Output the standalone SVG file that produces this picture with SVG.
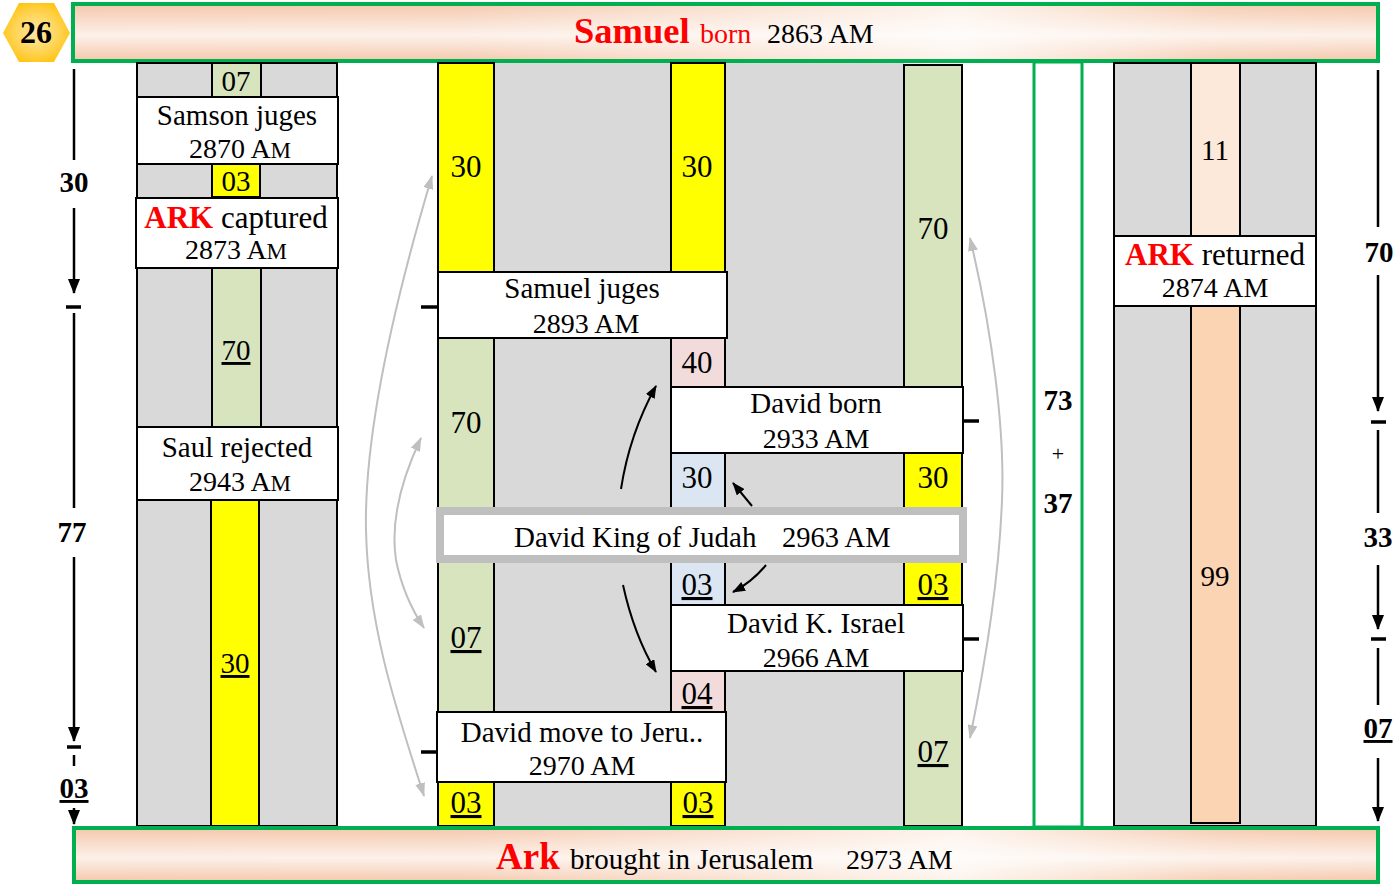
<svg xmlns="http://www.w3.org/2000/svg" width="1395" height="886" viewBox="0 0 1395 886">
<defs>
<linearGradient id="barH" x1="0" y1="0" x2="1" y2="0">
<stop offset="0" stop-color="#F5C7AB"/>
<stop offset="0.3" stop-color="#F5C9AE"/>
<stop offset="0.68" stop-color="#FDF3EC"/>
<stop offset="0.88" stop-color="#F6CDB3"/>
<stop offset="1" stop-color="#F5C7AB"/>
</linearGradient>
<linearGradient id="barV" x1="0" y1="0" x2="0" y2="1">
<stop offset="0" stop-color="#FFFFFF" stop-opacity="0"/>
<stop offset="0.55" stop-color="#FFFFFF" stop-opacity="0.75"/>
<stop offset="1" stop-color="#FFFFFF" stop-opacity="0"/>
</linearGradient>
<radialGradient id="hexG" cx="0.5" cy="0.5" r="0.6">
<stop offset="0" stop-color="#FFE9A8"/>
<stop offset="0.6" stop-color="#FFD24D"/>
<stop offset="1" stop-color="#FFC000"/>
</radialGradient>
<marker id="ah" markerUnits="userSpaceOnUse" markerWidth="15" markerHeight="12" viewBox="0 0 15 12" refX="14" refY="6" orient="auto">
<path d="M0,0 L15,6 L0,12 z" fill="#000"/>
</marker>
<marker id="ahs" markerUnits="userSpaceOnUse" markerWidth="13" markerHeight="10" viewBox="0 0 13 10" refX="12" refY="5" orient="auto">
<path d="M0,0 L13,5 L0,10 z" fill="#000"/>
</marker>
<marker id="ahg" markerUnits="userSpaceOnUse" markerWidth="14" markerHeight="10" viewBox="0 0 14 10" refX="13" refY="5" orient="auto-start-reverse">
<path d="M0,0 L14,5 L0,10 z" fill="#BFBFBF"/>
</marker>
</defs>
<style>
text{font-family:"Liberation Serif","Times New Roman",serif;fill:#000;}
.col{fill:#D9D9D9;stroke:#000;stroke-width:2;}
.gry{fill:#D9D9D9;}
.cell{stroke:#000;stroke-width:2;}
.g{fill:#D7E4BD;}
.y{fill:#FFFF00;}
.p{fill:#F2DCDB;}
.b{fill:#DCE6F2;}
.lp{fill:#FDE9D9;}
.pc{fill:#FBD4B4;}
.box{fill:#FFFFFF;stroke:#000;stroke-width:2;}
.t{font-size:29px;text-anchor:middle;}
.yr{font-size:28px;text-anchor:middle;}
.n{font-size:29px;text-anchor:middle;}
.n30{font-size:31px;text-anchor:middle;}
.u{text-decoration:underline;}
.sc{font-size:29px;font-weight:bold;text-anchor:middle;}
.red{fill:#FF0000;}
.bar{stroke:#00B050;stroke-width:4;}
.ln{stroke:#000;stroke-width:2.5;fill:none;}
.tk{stroke:#000;stroke-width:3.5;}
.ga{stroke:#BFBFBF;stroke-width:2;fill:none;marker-start:url(#ahg);marker-end:url(#ahg);}
.ba{stroke:#000;stroke-width:2;fill:none;marker-end:url(#ahs);}
</style>

<!-- header -->
<g id="header">
<rect x="73" y="4" width="1305" height="57" fill="url(#barH)"/>
<rect x="73" y="4" width="1305" height="57" fill="url(#barV)" class="bar"/>
<text x="574" y="43" font-size="36.5" font-weight="bold" class="red">Samuel</text>
<text x="700" y="43" font-size="28" class="red">born</text>
<text x="767" y="43" font-size="28">2863 AM</text>
</g>
<g id="badge">
<polygon points="3,33 19,3 54,3 70,33 54,62 19,62" fill="url(#hexG)"/>
<text x="36" y="43" font-size="32" font-weight="bold" text-anchor="middle">26</text>
</g>

<!-- left column -->
<g id="left-column">
<rect x="137" y="63" width="200" height="763" class="col"/>
<rect x="212" y="63" width="49" height="34" class="cell g"/>
<text x="236" y="91" class="n">07</text>
<rect x="212" y="164" width="48" height="33" class="cell y"/>
<text x="236" y="191" class="n">03</text>
<rect x="212" y="268" width="49" height="159" class="cell g"/>
<text x="236" y="360" class="n u">70</text>
<rect x="211" y="500" width="48" height="326" class="cell y"/>
<text x="235" y="673" class="n u">30</text>
</g>
<g id="samson">
<rect x="137" y="97" width="201" height="67" class="box"/>
<text x="237" y="125" class="t">Samson juges</text>
<text x="240" y="158" class="yr">2870 A<tspan font-size="23">M</tspan></text>
</g>
<g id="ark-captured">
<rect x="136" y="198" width="202" height="70" class="box"/>
<text x="236" y="228" font-size="31" text-anchor="middle"><tspan font-weight="bold" class="red">ARK</tspan> captured</text>
<text x="236" y="259" class="yr">2873 A<tspan font-size="23">M</tspan></text>
</g>
<g id="saul">
<rect x="137" y="427" width="201" height="73" class="box"/>
<text x="237" y="457" class="t">Saul rejected</text>
<text x="240" y="491" class="yr">2943 A<tspan font-size="23">M</tspan></text>
</g>

<!-- middle block -->
<g id="middle-block">
<rect x="438" y="63" width="466" height="763" class="gry"/>
<rect x="438" y="63" width="56" height="209" class="cell y"/>
<text x="466" y="177" class="n30">30</text>
<rect x="671" y="63" width="54" height="209" class="cell y"/>
<text x="697" y="177" class="n30">30</text>
<rect x="904" y="65" width="58" height="322" class="cell g"/>
<text x="933" y="239" class="n30">70</text>
<rect x="438" y="338" width="56" height="374" class="cell g"/>
<text x="466" y="433" class="n30">70</text>
<text x="466" y="648" class="n30 u">07</text>
<rect x="671" y="338" width="54" height="49" class="cell p"/>
<text x="697" y="373" class="n30">40</text>
<rect x="671" y="453" width="54" height="57" class="cell b"/>
<text x="697" y="488" class="n30">30</text>
<rect x="904" y="453" width="58" height="57" class="cell y"/>
<text x="933" y="488" class="n30">30</text>
<rect x="671" y="560" width="54" height="45" class="cell b"/>
<text x="697" y="595" class="n30 u">03</text>
<rect x="904" y="560" width="58" height="45" class="cell y"/>
<text x="933" y="595" class="n30 u">03</text>
<rect x="671" y="671" width="54" height="41" class="cell p"/>
<text x="697" y="704" class="n30 u">04</text>
<rect x="904" y="671" width="58" height="155" class="cell g"/>
<text x="933" y="762" class="n30 u">07</text>
<rect x="438" y="782" width="56" height="44" class="cell y"/>
<text x="466" y="813" class="n30 u">03</text>
<rect x="671" y="782" width="54" height="44" class="cell y"/>
<text x="698" y="813" class="n30 u">03</text>
</g>
<g id="samuel-juges">
<rect x="438" y="272" width="289" height="66" class="box"/>
<text x="582" y="298" class="t">Samuel juges</text>
<text x="586" y="333" class="yr">2893 AM</text>
<line x1="421" y1="307" x2="438" y2="307" class="tk"/>
</g>
<g id="david-born">
<rect x="671" y="387" width="292" height="66" class="box"/>
<text x="816" y="413" class="t">David born</text>
<text x="816" y="448" class="yr">2933 AM</text>
<line x1="963" y1="421" x2="979" y2="421" class="tk"/>
</g>
<g id="david-king-judah">
<rect x="440" y="511" width="523" height="48" fill="#FFFFFF" stroke="#BFBFBF" stroke-width="8"/>
<text x="514" y="547" font-size="29">David King of Judah</text>
<text x="782" y="547" font-size="28.5">2963 AM</text>
</g>
<g id="david-israel">
<rect x="671" y="605" width="292" height="66" class="box"/>
<text x="816" y="633" class="t">David K. Israel</text>
<text x="816" y="667" class="yr">2966 AM</text>
<line x1="963" y1="639" x2="979" y2="639" class="tk"/>
</g>
<g id="david-jerusalem">
<rect x="437" y="712" width="289" height="70" class="box"/>
<text x="582" y="742" class="t">David move to Jeru..</text>
<text x="582" y="775" class="yr">2970 AM</text>
<line x1="421" y1="752" x2="437" y2="752" class="tk"/>
</g>

<!-- green total box -->
<g id="total">
<rect x="1034" y="62" width="48" height="765" fill="#FFFFFF" stroke="#00B050" stroke-width="3"/>
<text x="1058" y="410" class="sc">73</text>
<text x="1058" y="461" font-size="22" text-anchor="middle">+</text>
<text x="1058" y="513" class="sc">37</text>
</g>

<!-- right column -->
<g id="right-column">
<rect x="1114" y="63" width="202" height="763" class="col"/>
<rect x="1191" y="63" width="49" height="173" class="cell lp"/>
<text x="1215" y="160" class="n">11</text>
<rect x="1191" y="306" width="49" height="517" class="cell pc"/>
<text x="1215" y="586" class="n">99</text>
</g>
<g id="ark-returned">
<rect x="1114" y="236" width="202" height="70" class="box"/>
<text x="1215" y="265" font-size="31" text-anchor="middle"><tspan font-weight="bold" class="red">ARK</tspan> returned</text>
<text x="1215" y="297" class="yr">2874 AM</text>
</g>

<!-- footer -->
<g id="footer">
<rect x="74" y="828" width="1304" height="54" fill="url(#barH)"/>
<rect x="74" y="828" width="1304" height="54" fill="url(#barV)" class="bar"/>
<text x="496" y="869" font-size="37" font-weight="bold" class="red">Ark</text>
<text x="570" y="869" font-size="29">brought in Jerusalem</text>
<text x="846" y="869" font-size="28">2973 AM</text>
</g>

<!-- connectors -->
<g id="connectors">
<path d="M432,176 C398,290 364,430 366,530 C368,630 400,720 424,796" class="ga"/>
<path d="M421,438 C402,478 390,520 396,560 C402,590 412,610 424,628" class="ga"/>
<path d="M970,238 C992,330 1005,430 1002,500 C999,580 986,660 970,738" class="ga"/>
<path d="M621,489 C627,450 640,415 656,386" class="ba"/>
<path d="M752,506 L733,483" class="ba"/>
<path d="M766,565 Q752,582 733,592" class="ba"/>
<path d="M623,585 Q634,635 656,672" class="ba"/>
</g>

<!-- scales -->
<g id="scale-left">
<line x1="74" y1="69" x2="74" y2="160" class="ln"/>
<text x="74" y="192" class="sc">30</text>
<line x1="74" y1="208" x2="74" y2="293" class="ln" marker-end="url(#ah)"/>
<line x1="66" y1="307" x2="81" y2="307" class="tk"/>
<line x1="74" y1="313" x2="74" y2="508" class="ln"/>
<text x="72" y="542" class="sc">77</text>
<line x1="74" y1="557" x2="74" y2="741" class="ln" marker-end="url(#ah)"/>
<line x1="67" y1="747" x2="81" y2="747" class="tk"/>
<line x1="74" y1="755" x2="74" y2="766" class="ln"/>
<text x="74" y="798" class="sc u">03</text>
<line x1="74" y1="808" x2="74" y2="824" class="ln" marker-end="url(#ah)"/>
</g>
<g id="scale-right">
<line x1="1378" y1="70" x2="1378" y2="227" class="ln"/>
<text x="1379" y="262" class="sc">70</text>
<line x1="1378" y1="275" x2="1378" y2="411" class="ln" marker-end="url(#ah)"/>
<line x1="1371" y1="422" x2="1386" y2="422" class="tk"/>
<line x1="1378" y1="430" x2="1378" y2="513" class="ln"/>
<text x="1378" y="547" class="sc">33</text>
<line x1="1378" y1="565" x2="1378" y2="629" class="ln" marker-end="url(#ah)"/>
<line x1="1371" y1="639" x2="1386" y2="639" class="tk"/>
<line x1="1378" y1="648" x2="1378" y2="705" class="ln"/>
<text x="1378" y="738" class="sc u">07</text>
<line x1="1378" y1="758" x2="1378" y2="821" class="ln" marker-end="url(#ah)"/>
</g>
</svg>
